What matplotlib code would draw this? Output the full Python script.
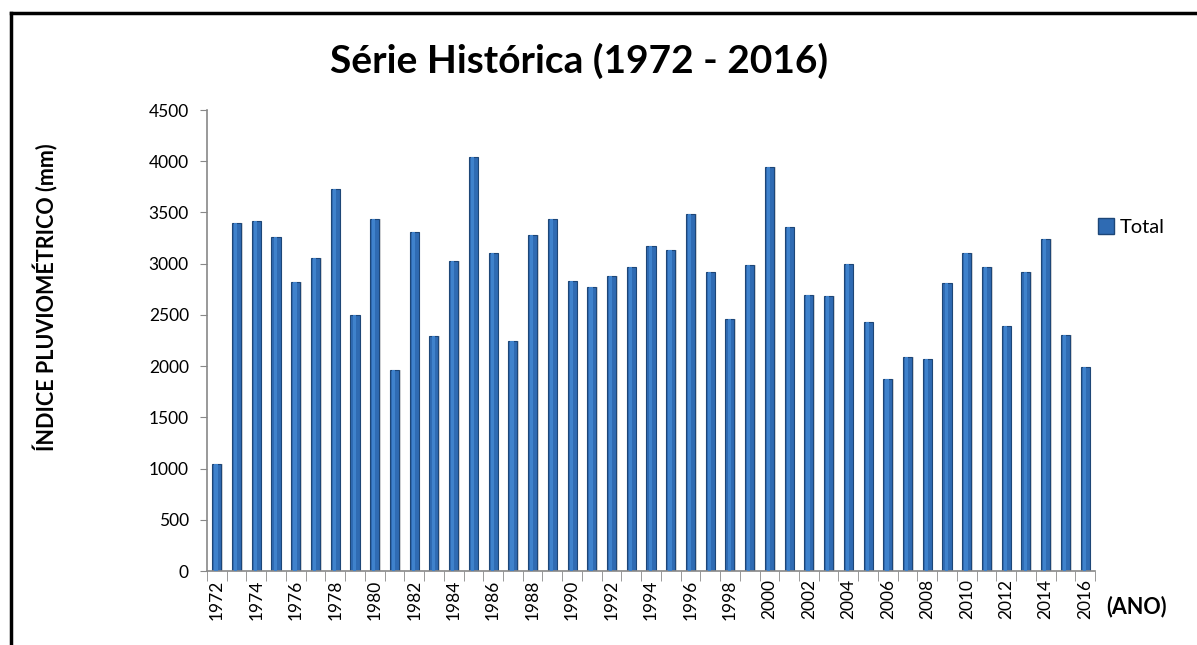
import numpy as np
import matplotlib
matplotlib.use("Agg")
import matplotlib.pyplot as plt
from matplotlib.lines import Line2D
from matplotlib.patches import Patch

# Annual rainfall totals
years = list(range(1972, 2017))
totals = [1040, 3400, 3420, 3260, 2820, 3055, 3730, 2495, 3435, 1960,
          3310, 2290, 3030, 4040, 3100, 2250, 3280, 3440, 2830, 2770,
          2880, 2965, 3170, 3130, 3490, 2915, 2460, 2985, 3945, 3355,
          2695, 2680, 3000, 2435, 1870, 2090, 2070, 2810, 3100, 2965,
          2390, 2915, 3240, 2300, 1990]
tick_labels = [str(y) if (y - 1972) % 2 == 0 else "" for y in years]
series_name = "Total"

plt.rcParams['font.family'] = ['Lato', 'DejaVu Sans']

fig = plt.figure(figsize=(11.97, 6.45), dpi=100)
ax = fig.add_axes([0.1729, 0.1147, 0.7419, 0.7147])

x = np.arange(len(years))
# shadow, main bar and a lighter highlight strip for the glossy Excel look
ax.bar(x + 0.06, totals, width=0.5, color='#d8d8d8', zorder=1)
ax.bar(x, totals, width=0.46, color='#2f6bb3', edgecolor='#1d4677',
       linewidth=0.8, zorder=2)
ax.bar(x - 0.04, totals, width=0.16, color='#3f82cc', linewidth=0, zorder=3)

ax.set_xlim(-0.5, len(years) - 0.5)
ax.set_ylim(0, 4500)
ax.set_yticks(np.arange(0, 4501, 500))
ax.tick_params(axis='y', labelsize=12.5, length=5, color='#888888', pad=8)

ax.set_xticks(x)
ax.set_xticklabels(tick_labels, rotation=90, fontsize=12.5)
ax.tick_params(axis='x', length=0, pad=6)
ax.set_xticks(np.arange(-0.5, len(years), 1), minor=True)
ax.tick_params(axis='x', which='minor', length=7, color='#888888')

for side in ['top', 'right']:
    ax.spines[side].set_visible(False)
for side in ['left', 'bottom']:
    ax.spines[side].set_color('#888888')
    ax.spines[side].set_linewidth(1.2)

fig.text(0.484, 0.905, "Série Histórica (1972 - 2016)", ha='center', va='center',
         fontsize=28, fontweight='bold')
fig.text(0.038, 0.54, "ÍNDICE PLUVIOMÉTRICO (mm)", rotation=90, ha='center',
         va='center', fontsize=15.5, fontweight='bold')
fig.text(0.924, 0.059, "(ANO)", ha='left', va='center', fontsize=15.5,
         fontweight='bold')

handle = Patch(facecolor='#2f6bb3', edgecolor='#1d4677')
fig.legend([handle], [series_name], loc='center left',
           bbox_to_anchor=(0.902, 0.648), frameon=False, fontsize=14.5,
           handlelength=0.8, handleheight=0.8, handletextpad=0.3)

# black frame around the chart area (top and left edges visible)
fig.add_artist(Line2D([11 / 1197, 1.0], [1 - 13 / 645] * 2, color='black',
                      linewidth=2.5, transform=fig.transFigure))
fig.add_artist(Line2D([11 / 1197] * 2, [0, 1 - 13 / 645], color='black',
                      linewidth=2.5, transform=fig.transFigure))

fig.savefig("out.png", dpi=100)
